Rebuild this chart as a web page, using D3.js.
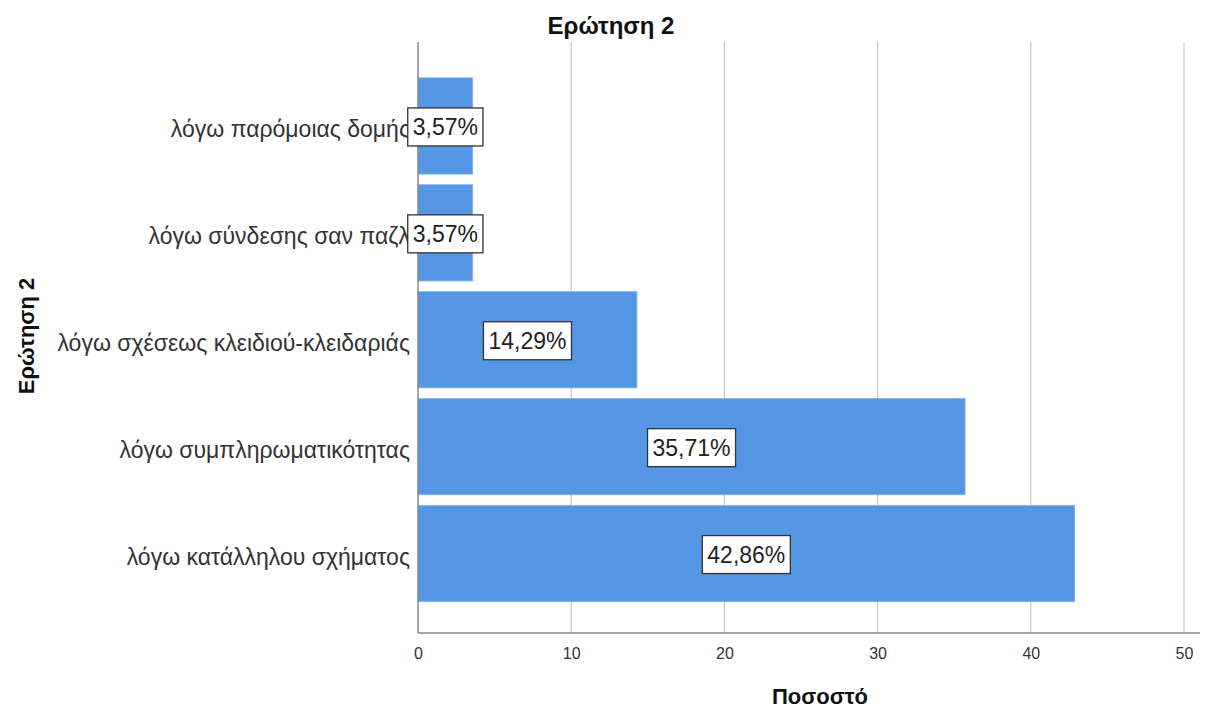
<!DOCTYPE html>
<html><head><meta charset="utf-8">
<script src="https://cdn.jsdelivr.net/npm/d3@7"></script>
<style>body{margin:0;background:#fff}svg{display:block;font-family:"Liberation Sans",Arial,sans-serif}</style>
</head><body>
<svg id="c" width="1216" height="709"></svg>
<script>
const categories = ["λόγω παρόμοιας δομής","λόγω σύνδεσης σαν παζλ","λόγω σχέσεως κλειδιού-κλειδαριάς","λόγω συμπληρωματικότητας","λόγω κατάλληλου σχήματος"];
const values = [3.57, 3.57, 14.29, 35.71, 42.86];
const valueLabels = ["3,57%","3,57%","14,29%","35,71%","42,86%"];
const xTicks = [0,10,20,30,40,50];
const title = "Ερώτηση 2";
const xTitle = "Ποσοστό";
const yTitle = "Ερώτηση 2";

const svg = d3.select("#c");
const x = d3.scaleLinear().domain([0,50]).range([418,1184]);
const y = d3.scaleBand().domain(categories).range([72.5,607]).paddingInner(0.1).paddingOuter(0.05);
const plotTop = 42, plotBottom = 633;

// grid
svg.append("g").selectAll("line").data(xTicks.filter(d=>d>0)).join("line")
  .attr("x1",d=>x(d)).attr("x2",d=>x(d)).attr("y1",plotTop).attr("y2",plotBottom)
  .attr("stroke","#cccccc").attr("stroke-width",1.3);

// bars
svg.append("g").selectAll("rect").data(values).join("rect")
  .attr("x",x(0)).attr("y",(d,i)=>y(categories[i]))
  .attr("width",d=>x(d)-x(0)).attr("height",y.bandwidth())
  .attr("fill","#5596e5").attr("stroke","#7fb0ee").attr("stroke-width",0.8);

// axes lines
svg.append("line").attr("x1",x(0)).attr("x2",1200).attr("y1",plotBottom).attr("y2",plotBottom).attr("stroke","#8a8a8a").attr("stroke-width",1.5);
svg.append("line").attr("x1",x(0)).attr("x2",x(0)).attr("y1",plotTop).attr("y2",plotBottom).attr("stroke","#8a8a8a").attr("stroke-width",1.5);

// x ticks labels
const xa = d3.axisBottom(x).tickValues(xTicks).tickSize(0).tickPadding(15);
const gx = svg.append("g").attr("transform",`translate(0,${plotBottom})`).call(xa);
gx.select(".domain").remove();
gx.selectAll("text").attr("font-size",16).attr("fill","#333").attr("font-family","Liberation Sans, Arial, sans-serif");

// category labels
svg.append("g").selectAll("text").data(categories).join("text")
  .attr("x",410).attr("y",d=>y(d)+y.bandwidth()/2+3).attr("dy","0.36em")
  .attr("text-anchor","end").attr("font-size",23).attr("fill","#333")
  .text(d=>d);

// value labels
const lg = svg.append("g").selectAll("g").data(values).join("g")
  .attr("transform",(d,i)=>`translate(${(x(0)+x(d))/2},${y(categories[i])+y.bandwidth()/2+1})`);
lg.each(function(d,i){
  const g = d3.select(this);
  const t = g.append("text").attr("text-anchor","middle").attr("dy","0.36em")
    .attr("font-size",23).attr("fill","#222").text(valueLabels[i]);
  const w = t.node().getComputedTextLength();
  g.insert("rect","text").attr("x",-w/2-5).attr("y",-19).attr("width",w+10).attr("height",38)
    .attr("fill","#fff").attr("stroke","#333").attr("stroke-width",1.3);
});

// titles
svg.append("text").attr("x",611).attr("y",34).attr("text-anchor","middle").attr("font-size",24).attr("font-weight","bold").attr("fill","#111").text(title);
svg.append("text").attr("x",820).attr("y",704).attr("text-anchor","middle").attr("font-size",22).attr("font-weight","bold").attr("fill","#111").text(xTitle);
svg.append("text").attr("transform","translate(34,336) rotate(-90)").attr("text-anchor","middle").attr("font-size",22).attr("font-weight","bold").attr("fill","#111").text(yTitle);
</script>
</body></html>
